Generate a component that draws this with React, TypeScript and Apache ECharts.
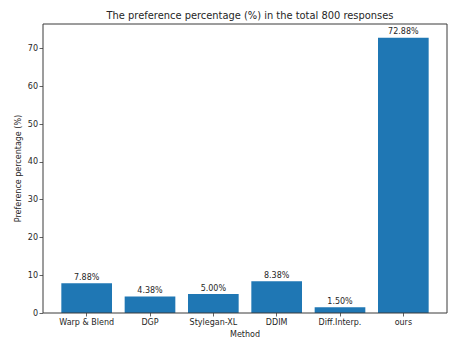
import React, { useEffect, useRef } from "react";
import * as echarts from "echarts";

const categories = ["Warp & Blend", "DGP", "Stylegan-XL", "DDIM", "Diff.Interp.", "ours"];
const values = [7.88, 4.38, 5.0, 8.38, 1.5, 72.88];
const yTicks = [0, 10, 20, 30, 40, 50, 60, 70];
const titleText = "The preference percentage (%) in the total 800 responses";
const xName = "Method";
const yName = "Preference percentage (%)";

const FONT = "DejaVu Sans";
const TXT = "#262626";
const LINE = "#3a3a3a";

export default function App() {
  const ref = useRef<HTMLDivElement>(null);
  useEffect(() => {
    if (!ref.current) return;
    const chart = echarts.init(ref.current, undefined, { renderer: "svg" });
    chart.setOption({
      animation: false,
      backgroundColor: "#ffffff",
      title: {
        text: titleText,
        left: 245,
        top: 5,
        textAlign: "center",
        textStyle: { fontFamily: FONT, fontSize: 9.9, fontWeight: "normal", color: TXT },
      },
      grid: { left: 55, right: 28, top: 24, bottom: 35, containLabel: false },
      xAxis: {
        type: "category",
        data: categories,
        name: xName,
        nameLocation: "middle",
        nameGap: 16,
        nameTextStyle: { fontFamily: FONT, fontSize: 8, color: TXT },
        axisLine: { show: false },
        axisTick: { show: true, alignWithLabel: true, length: 3.5, lineStyle: { color: LINE, width: 0.8 } },
        axisLabel: { fontFamily: FONT, fontSize: 8, color: TXT, margin: 5, interval: 0 },
        splitLine: { show: false },
      },
      yAxis: {
        type: "value",
        min: 0,
        max: 76.5,
        interval: 10,
        offset: 12,
        name: yName,
        nameLocation: "middle",
        nameGap: 21,
        nameMoveOverlap: false,
        nameTextStyle: { fontFamily: FONT, fontSize: 8, color: TXT },
        axisLine: { show: false },
        axisTick: { show: true, length: 3.5, customValues: yTicks, lineStyle: { color: LINE, width: 0.8 } },
        axisLabel: { fontFamily: FONT, fontSize: 8, color: TXT, margin: 5, customValues: yTicks },
        splitLine: { show: false },
      },
      series: [
        {
          type: "bar",
          data: values,
          barWidth: "80%",
          itemStyle: { color: "#1f77b4" },
          label: {
            show: true,
            position: "top",
            distance: 2,
            fontFamily: FONT,
            fontSize: 8,
            color: TXT,
            formatter: (p: any) => Number(p.value).toFixed(2) + "%",
          },
        },
      ],
      graphic: [
        {
          type: "rect",
          silent: true,
          z: 100,
          shape: { x: 43, y: 24, width: 404, height: 289 },
          style: { fill: "none", stroke: LINE, lineWidth: 1 },
        },
      ],
    });
    return () => chart.dispose();
  }, []);
  return <div ref={ref} style={{ width: 463, height: 348, position: "absolute", left: 0, top: 0 }} />;
}
